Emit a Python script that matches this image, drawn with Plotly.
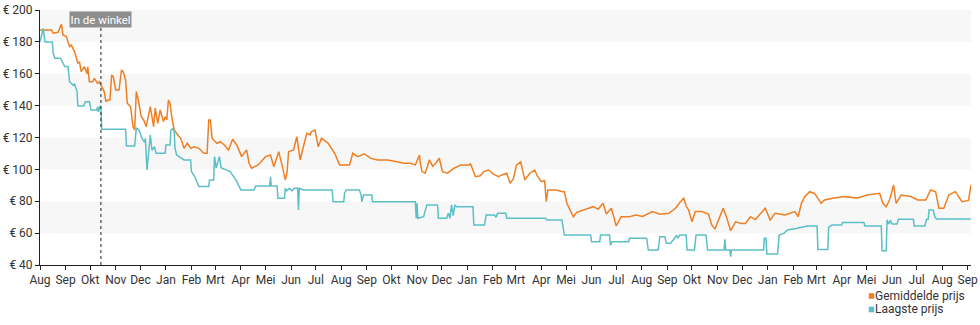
import pandas as pd
import plotly.graph_objects as go

start_date = pd.Timestamp("2019-08-01")
end_date = "2022-09-05"
in_store_date = "2019-10-14"

# Gemiddelde prijs: days since start_date, price in euro
gem_days = [
    0, 14, 16, 22, 26, 28, 32, 36, 38, 42,
    46, 48, 50, 54, 57, 58, 60, 64, 66, 70,
    72, 75, 78, 80, 82, 85, 87, 89, 92, 96,
    99, 101, 104, 106, 110, 113, 115, 117, 119, 123,
    126, 129, 134, 136, 138, 140, 143, 146, 148, 150,
    152, 154, 156, 158, 160, 163, 169, 171, 175, 179,
    183, 187, 193, 199, 203, 205, 207, 209, 211, 215,
    219, 224, 229, 234, 239, 245, 251, 254, 257, 265,
    274, 280, 284, 290, 294, 298, 300, 302, 308, 312,
    316, 320, 324, 328, 330, 332, 334, 338, 342, 350,
    358, 364, 376, 380, 386, 394, 402, 410, 422, 434,
    442, 450, 456, 461, 462, 464, 468, 473, 477, 481,
    485, 489, 495, 503, 511, 521, 523, 529, 535, 539,
    545, 551, 557, 561, 567, 571, 575, 579, 584, 586,
    589, 595, 601, 604, 609, 613, 615, 617, 627, 635,
    637, 640, 642, 648, 652, 660, 667, 672, 678, 684,
    688, 694, 698, 700, 706, 716, 724, 732, 744, 753,
    764, 772, 778, 782, 785, 788, 792, 796, 804, 812,
    816, 820, 824, 830, 834, 839, 845, 852, 857, 863,
    869, 875, 881, 887, 893, 905, 917, 921, 925, 929,
    935, 941, 949, 953, 963, 977, 993, 1005, 1020, 1024,
    1028, 1032, 1037, 1040, 1046, 1058, 1066, 1076, 1082, 1088,
    1092, 1098, 1104, 1112, 1120, 1128, 1131,
]
gem_prices = [
    187.5, 187.5, 185.4, 186, 191.2, 184.3, 183.3, 177, 178, 173.9,
    166.6, 167.5, 161.3, 164.4, 160, 164.4, 155, 155, 157.1, 154,
    155, 151.9, 148.8, 142.5, 143.5, 143.5, 159.2, 158.2, 149.8, 149.8,
    162.4, 161.3, 156.1, 141.5, 139.3, 126.8, 124.7, 148.8, 144.6, 133.1,
    131, 126.8, 139.3, 133.1, 126.8, 138.5, 128.9, 137.3, 134, 130,
    133.1, 131, 143.5, 141.5, 133.1, 124.7, 120.5, 119.5, 113.2, 116.4,
    113.2, 114.2, 113.2, 110.1, 110.1, 131, 131, 119.5, 118.4, 116.4,
    117.4, 115.3, 112.2, 118.9, 115.3, 108, 112.2, 103.8, 100.7, 102.8,
    108, 109, 101.7, 111.1, 102.8, 93.4, 97.6, 111.1, 112.2, 120.5,
    105.9, 115.3, 122.6, 121.6, 123.7, 124.3, 124.7, 114.2, 119.5, 116.4,
    110.1, 102.8, 102.8, 110.1, 108, 109.7, 106.9, 105.9, 105.9, 104.8,
    103.8, 103.8, 102.8, 109, 104, 98.6, 97.6, 105.9, 102, 104,
    107, 98.6, 97.6, 100.7, 102.8, 102.8, 103.5, 95.4, 96, 98.6,
    99.6, 97, 95.4, 96.5, 97.6, 91.3, 94, 102.8, 104.8, 100,
    93.4, 97.6, 99.6, 96, 92.3, 93, 79.7, 87.1, 87, 86,
    86, 78.7, 76.6, 70.3, 73, 74.5, 75.5, 76.6, 75, 78.7,
    72, 75.6, 68.3, 64.5, 70.3, 70.3, 71.4, 70.5, 73.5, 71.8,
    72.4, 75.6, 79.7, 81.9, 77, 74.5, 67.1, 73.5, 73.5, 72,
    65.1, 62.5, 68, 75.6, 70, 61.5, 67.1, 66, 66.1, 70.3,
    68.5, 72.4, 75.6, 68.3, 72.4, 71.4, 73.5, 70.3, 78.7, 82.9,
    86, 84.9, 78.7, 80.8, 81.9, 82.9, 82, 83.9, 85, 78.7,
    76.6, 80.8, 90.2, 78.7, 83.9, 83, 80.8, 80.8, 87.1, 86,
    75.6, 75.6, 83.9, 86, 79.7, 80.5, 90.2,
]

# Laagste prijs: days since start_date, price in euro
low_days = [
    0, 4, 6, 15, 16, 18, 25, 28, 30, 34,
    36, 40, 42, 45, 46, 53, 55, 60, 62, 69,
    70, 71, 73, 74, 75, 104, 105, 115, 117, 120,
    124, 127, 128, 130, 132, 134, 136, 139, 141, 152,
    153, 158, 159, 161, 163, 164, 166, 175, 183, 184,
    188, 193, 205, 206, 211, 212, 214, 218, 220, 226,
    231, 238, 244, 260, 262, 279, 280, 281, 288, 289,
    297, 298, 300, 303, 306, 309, 313, 314, 315, 320,
    355, 356, 369, 370, 372, 388, 390, 391, 393, 403,
    404, 456, 457, 458, 459, 466, 470, 483, 484, 494,
    496, 498, 500, 502, 504, 506, 526, 527, 540, 542,
    552, 554, 556, 566, 567, 614, 616, 634, 637, 669,
    670, 680, 681, 692, 693, 695, 715, 716, 737, 739,
    751, 753, 759, 761, 766, 771, 773, 775, 777, 785,
    786, 795, 797, 809, 811, 831, 832, 833, 838, 839,
    840, 879, 880, 882, 883, 896, 898, 904, 908, 920,
    932, 944, 945, 957, 958, 962, 974, 975, 1001, 1002,
    1022, 1023, 1028, 1029, 1031, 1033, 1035, 1041, 1043, 1061,
    1062, 1075, 1077, 1079, 1080, 1085, 1087, 1089, 1131,
]
low_prices = [
    180, 188.5, 180, 180, 172.8, 169.7, 169.7, 166.6, 164.5, 164.5,
    155, 152.9, 153.5, 148.8, 139.8, 139.8, 142.5, 142.5, 137.3, 137.3,
    139.3, 136, 140, 138, 125.2, 125.2, 114.7, 114.7, 125.8, 125,
    119.5, 117, 119.5, 99.6, 110.1, 121.6, 112, 114.2, 110.1, 110.1,
    115.3, 115.3, 124.7, 125.5, 124, 113.2, 109, 105.9, 105.9, 98.6,
    95.4, 89.2, 89.2, 93.4, 93.4, 108, 101, 108, 101, 99.6,
    98.6, 93.4, 87.1, 87.1, 89.6, 89.6, 95.4, 89.6, 89.6, 81.9,
    81.9, 88.1, 86.5, 88.1, 86.5, 88.1, 88.1, 74.5, 88.1, 87.1,
    87.1, 79.7, 79.7, 85, 87.1, 87.1, 84, 79.7, 83.9, 83.9,
    79.7, 79.7, 69.3, 78.7, 69.3, 70.3, 77.7, 77.7, 69.3, 69.3,
    72.4, 69.3, 77.7, 71, 77.7, 76.6, 76.6, 65.1, 65.1, 71.4,
    71.4, 70, 72.4, 72.4, 69.3, 69.3, 68.3, 68.3, 58.8, 58.8,
    54.6, 54.6, 58.8, 58.8, 52.5, 54.6, 54.6, 56.8, 56.8, 49.4,
    49.4, 57.8, 57.8, 53.6, 53.6, 56.8, 58.8, 56.8, 58.8, 58.8,
    49.4, 49.4, 58.8, 58.8, 49.4, 49.4, 56.1, 49.4, 49.4, 45.2,
    49.4, 49.4, 56.8, 56.8, 46.9, 46.9, 58.8, 60, 62, 63,
    64.5, 64.5, 49.8, 49.8, 63.6, 65.1, 65.1, 66.6, 66.6, 64.5,
    64.5, 49, 49, 68.3, 65.7, 68, 65.7, 65.7, 68.7, 68.7,
    64.5, 64.5, 68.7, 68.7, 74.5, 74.5, 70.3, 68.9, 68.9,
]

month_names = ["Jan", "Feb", "Mrt", "Apr", "Mei", "Jun",
               "Jul", "Aug", "Sep", "Okt", "Nov", "Dec"]
y_ticks = [40, 60, 80, 100, 120, 140, 160, 180, 200]
shaded_bands = [(60, 80), (100, 120), (140, 160), (180, 200)]
series_names = ["Gemiddelde prijs", "Laagste prijs"]

ORANGE = "#ef7f22"
TEAL = "#5cbfc8"
TEXT = "#333333"
FONT = "Roboto"

gem_dates = start_date + pd.to_timedelta(gem_days, unit="D")
low_dates = start_date + pd.to_timedelta(low_days, unit="D")
tick_dates = pd.date_range(start_date, "2022-09-01", freq="MS")
tick_text = [month_names[d.month - 1] for d in tick_dates]

fig = go.Figure()
fig.add_trace(go.Scatter(x=gem_dates, y=gem_prices, mode="lines",
                         name=series_names[0],
                         line=dict(color=ORANGE, width=1.5)))
fig.add_trace(go.Scatter(x=low_dates, y=low_prices, mode="lines",
                         name=series_names[1],
                         line=dict(color=TEAL, width=1.5)))

shapes = []
for lo, hi in shaded_bands:
    shapes.append(dict(type="rect", xref="paper", x0=0, x1=1, yref="y",
                       y0=lo, y1=hi, fillcolor="#f7f7f7", line_width=0,
                       layer="below"))
shapes.append(dict(type="line", xref="x", x0=in_store_date, x1=in_store_date,
                   yref="paper", y0=0, y1=0.94,
                   line=dict(color="#222222", width=1, dash="dot")))

# custom legend (squares), positioned below the plot at the right
PLOT_L, PLOT_R, PLOT_T, PLOT_B = 40, 978, 10, 265
def px_x(px):
    return (px - PLOT_L) / (PLOT_R - PLOT_L)
def px_y(py):
    return (PLOT_B - py) / (PLOT_B - PLOT_T)

annotations = [dict(x=in_store_date, xref="x", y=px_y(20), yref="paper",
                    text="In de winkel", showarrow=False,
                    font=dict(family=FONT, size=11.5, color="#ffffff"),
                    bgcolor="#8e8e8e", borderpad=0.5, xanchor="center",
                    yanchor="middle")]
for i, (name, col) in enumerate(zip(series_names, [ORANGE, TEAL])):
    cy = 296 + i * 13.5
    shapes.append(dict(type="rect", xref="paper", yref="paper",
                       x0=px_x(875), x1=px_x(880.5),
                       y0=px_y(cy + 2.8), y1=px_y(cy - 2.8),
                       fillcolor=col, line_width=0))
    annotations.append(dict(x=px_x(880), y=px_y(cy - 0.5), xref="paper",
                            yref="paper", text=name, showarrow=False,
                            xanchor="left", yanchor="middle", borderpad=0,
                            font=dict(family=FONT, size=12, color=TEXT)))

fig.update_layout(
    width=980, height=325,
    margin=dict(l=PLOT_L, r=980 - PLOT_R, t=PLOT_T, b=325 - PLOT_B),
    paper_bgcolor="white", plot_bgcolor="white",
    showlegend=False,
    font=dict(family=FONT, size=12, color=TEXT),
    shapes=shapes, annotations=annotations,
    xaxis=dict(type="date", range=[start_date, end_date],
               tickvals=tick_dates, ticktext=tick_text,
               ticklabeloverflow="allow",
               showgrid=False, zeroline=False, showline=True,
               linecolor="#222222", linewidth=1, ticks="outside",
               ticklen=4, tickcolor="#222222",
               tickfont=dict(family=FONT, size=12, color=TEXT)),
    yaxis=dict(range=[40, 200], tickvals=y_ticks,
               ticktext=[f"€ {v}" for v in y_ticks],
               showgrid=False, zeroline=False, showline=True,
               linecolor="#222222", linewidth=1, ticks="outside",
               ticklen=4, tickcolor="#222222",
               tickfont=dict(family=FONT, size=12, color=TEXT)),
)

fig.write_html("out.html")
